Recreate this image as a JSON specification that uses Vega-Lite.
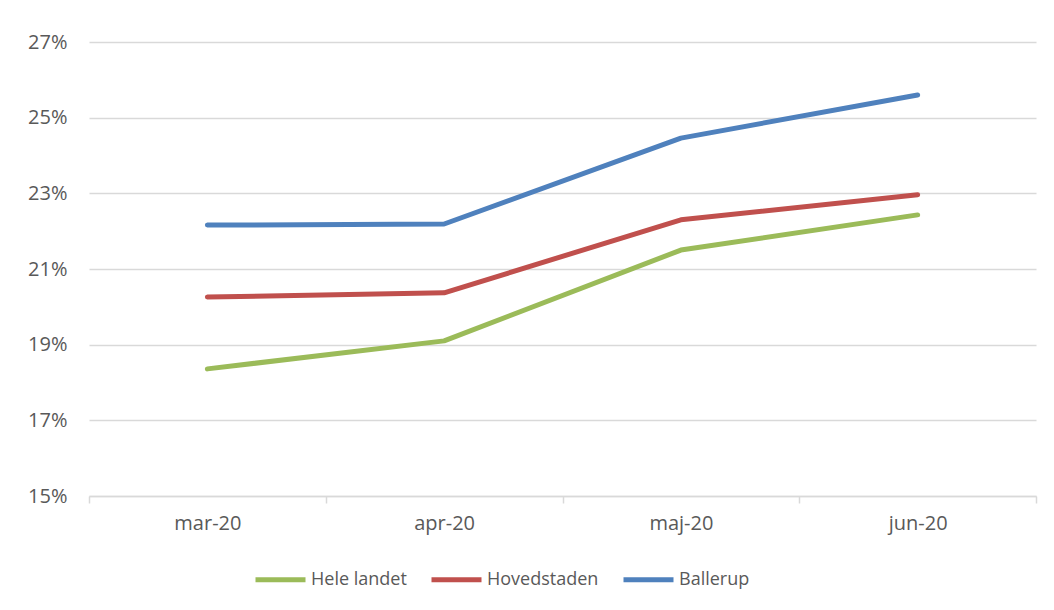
{
  "$schema": "https://vega.github.io/schema/vega-lite/v6.json",
  "autosize": {"type": "none"},
  "width": 947,
  "height": 454,
  "padding": {"left": 89, "top": 42, "right": 18, "bottom": 114},
  "background": "white",
  "config": {
    "view": {"stroke": null},
    "font": "Open Sans",
    "axis": {"labelFont": "Open Sans", "labelColor": "#595959", "labelFontSize": 20},
    "legend": {"labelFont": "Open Sans", "labelColor": "#595959", "labelFontSize": 18}
  },
  "data": {
    "values": [
      {"month": "mar-20", "series": "Hele landet", "value": 0.1836},
      {"month": "apr-20", "series": "Hele landet", "value": 0.1910},
      {"month": "maj-20", "series": "Hele landet", "value": 0.2150},
      {"month": "jun-20", "series": "Hele landet", "value": 0.2243},
      {"month": "mar-20", "series": "Hovedstaden", "value": 0.2026},
      {"month": "apr-20", "series": "Hovedstaden", "value": 0.2037},
      {"month": "maj-20", "series": "Hovedstaden", "value": 0.2230},
      {"month": "jun-20", "series": "Hovedstaden", "value": 0.2296},
      {"month": "mar-20", "series": "Ballerup", "value": 0.2216},
      {"month": "apr-20", "series": "Ballerup", "value": 0.2219},
      {"month": "maj-20", "series": "Ballerup", "value": 0.2446},
      {"month": "jun-20", "series": "Ballerup", "value": 0.2560}
    ]
  },
  "mark": {"type": "line", "strokeWidth": 5, "strokeCap": "round", "strokeJoin": "round"},
  "encoding": {
    "x": {
      "field": "month",
      "type": "ordinal",
      "sort": ["mar-20", "apr-20", "maj-20", "jun-20"],
      "scale": {"type": "band", "paddingInner": 0, "paddingOuter": 0},
      "axis": {
        "title": null,
        "labelAngle": 0,
        "tickBand": "extent",
        "ticks": true,
        "tickSize": 7,
        "tickColor": "#D9D9D9",
        "tickWidth": 1.5,
        "domainColor": "#D9D9D9",
        "domainWidth": 1.5,
        "grid": false,
        "labelPadding": 10
      }
    },
    "y": {
      "field": "value",
      "type": "quantitative",
      "scale": {"domain": [0.15, 0.27], "nice": false, "zero": false},
      "axis": {
        "title": null,
        "format": ".0%",
        "values": [0.15, 0.17, 0.19, 0.21, 0.23, 0.25, 0.27],
        "domain": false,
        "ticks": false,
        "grid": true,
        "gridColor": "#D9D9D9",
        "gridWidth": 1.5,
        "labelPadding": 22
      }
    },
    "color": {
      "field": "series",
      "type": "nominal",
      "sort": ["Hele landet", "Hovedstaden", "Ballerup"],
      "scale": {"domain": ["Hele landet", "Hovedstaden", "Ballerup"], "range": ["#9BBB59", "#C0504D", "#4F81BD"]},
      "legend": {
        "title": null,
        "orient": "none",
        "direction": "horizontal",
        "legendX": 164,
        "legendY": 510,
        "symbolType": "stroke",
        "symbolSize": 2500,
        "symbolStrokeWidth": 5,
        "labelOffset": 3,
        "columnPadding": 14
      }
    }
  }
}
